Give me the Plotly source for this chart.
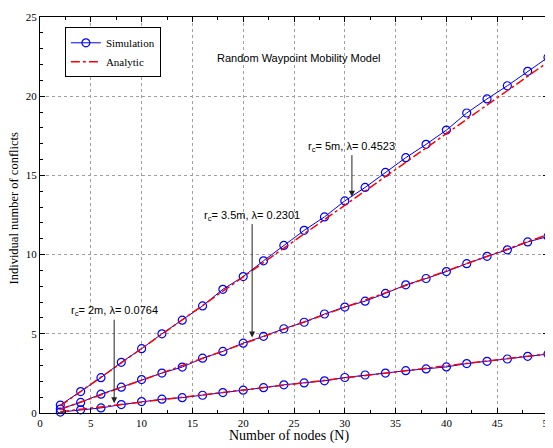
import plotly.graph_objects as go

# ---- data ----
nodes = [2, 4, 6, 8, 10, 12, 14, 16, 18, 20, 22, 24, 26, 28, 30, 32, 34, 36, 38, 40, 42, 44, 46, 48, 50]

sim_rc5 = [0.50, 1.35, 2.23, 3.20, 4.06, 5.00, 5.86, 6.76, 7.81, 8.61, 9.61, 10.58, 11.53, 12.38, 13.39,
           14.24, 15.19, 16.12, 16.96, 17.86, 18.94, 19.83, 20.66, 21.57, 22.45]
ana_rc5 = [0.45, 1.36, 2.26, 3.17, 4.07, 4.98, 5.88, 6.78, 7.69, 8.59, 9.50, 10.40, 11.31, 12.21, 13.12,
           14.02, 14.93, 15.83, 16.74, 17.64, 18.55, 19.45, 20.35, 21.26, 22.16]

sim_rc35 = [0.25, 0.67, 1.19, 1.63, 2.11, 2.52, 2.90, 3.46, 3.89, 4.41, 4.84, 5.32, 5.73, 6.25, 6.69,
            7.06, 7.55, 8.09, 8.49, 8.93, 9.43, 9.89, 10.30, 10.80, 11.14]
ana_rc35 = [0.23, 0.69, 1.15, 1.61, 2.07, 2.53, 2.99, 3.45, 3.91, 4.37, 4.83, 5.29, 5.75, 6.21, 6.67,
            7.13, 7.59, 8.05, 8.51, 8.97, 9.43, 9.89, 10.35, 10.81, 11.27]

sim_rc2 = [0.06, 0.20, 0.32, 0.53, 0.72, 0.87, 0.97, 1.12, 1.29, 1.44, 1.60, 1.78, 1.90, 2.03, 2.24,
           2.40, 2.52, 2.67, 2.78, 2.91, 3.12, 3.26, 3.41, 3.58, 3.72]
ana_rc2 = [0.08, 0.23, 0.38, 0.53, 0.69, 0.84, 0.99, 1.15, 1.30, 1.45, 1.60, 1.76, 1.91, 2.06, 2.22,
           2.37, 2.52, 2.67, 2.83, 2.98, 3.13, 3.29, 3.44, 3.59, 3.74]

sim_series = [sim_rc5, sim_rc35, sim_rc2]
ana_series = [ana_rc5, ana_rc35, ana_rc2]

labels = ["r<sub>c</sub>= 5m, λ= 0.4523", "r<sub>c</sub>= 3.5m, λ= 0.2301", "r<sub>c</sub>= 2m, λ= 0.0764"]
arrow_tips = [(30.7, 13.66), (20.88, 4.76), (7.3, 0.62)]
label_offsets = [-50, -122, -92]   # label centre above arrow tip, in pixels

title_text = "Random Waypoint Mobility Model"
x_title = "Number of nodes (N)"
y_title = "Individual number of conflicts"

SERIF = "Liberation Serif, Times New Roman, serif"
SANS = "Liberation Sans, Arial, sans-serif"

fig = go.Figure()

for i, s in enumerate(sim_series):
    fig.add_trace(go.Scatter(
        x=nodes, y=s, mode="lines+markers", name="Simulation",
        legendgroup="sim", showlegend=(i == 0),
        line=dict(color="#0000ff", width=1),
        marker=dict(symbol="circle-open", size=8, color="#0000ff", line=dict(width=1.2)),
        cliponaxis=False,
    ))

for i, s in enumerate(ana_series):
    fig.add_trace(go.Scatter(
        x=nodes, y=s, mode="lines", name="Analytic",
        legendgroup="ana", showlegend=(i == 0),
        line=dict(color="#ff0000", width=1.5, dash="dashdot"),
    ))

annotations = []
for (tx, ty), off, txt in zip(arrow_tips, label_offsets, labels):
    annotations.append(dict(x=tx, y=ty, xref="x", yref="y", text=txt, showarrow=True,
                            ax=0, ay=off, arrowhead=2, arrowsize=1.2, arrowwidth=1,
                            arrowcolor="#222222",
                            font=dict(family=SANS, size=11, color="black")))

annotations.append(dict(x=25.4, y=22.44, xref="x", yref="y", text=title_text, showarrow=False,
                        font=dict(family=SANS, size=11, color="black"),
                        xanchor="center", yanchor="middle"))
annotations.append(dict(x=0.4897, y=-0.058, xref="paper", yref="paper", text=x_title, showarrow=False,
                        font=dict(family=SERIF, size=14, color="black"),
                        xanchor="center", yanchor="middle"))
annotations.append(dict(x=-0.0511, y=0.5165, xref="paper", yref="paper", text=y_title, showarrow=False,
                        textangle=-90,
                        font=dict(family=SERIF, size=12.5, color="black"),
                        xanchor="center", yanchor="middle"))

axis_common = dict(
    showline=True, linecolor="black", linewidth=1, mirror="ticks",
    ticks="inside", ticklen=5, tickcolor="black", tickwidth=1,
    showgrid=True, gridcolor="#a0a0a0", griddash="dot", gridwidth=1,
    zeroline=False, ticklabeloverflow="allow",
    tickfont=dict(family=SERIF, size=11, color="black"),
)

fig.update_layout(
    width=553, height=448,
    margin=dict(l=32, r=13, t=3, b=43),
    paper_bgcolor="white", plot_bgcolor="white",
    xaxis=dict(range=[0, 50], tick0=0, dtick=5,
               minor=dict(dtick=2.5, ticks="inside", ticklen=3, tickcolor="black", showgrid=False),
               **axis_common),
    yaxis=dict(range=[0, 25], tick0=0, dtick=5,
               minor=dict(dtick=1, ticks="inside", ticklen=3, tickcolor="black", showgrid=False),
               **axis_common),
    showlegend=True,
    legend=dict(x=0.049, y=0.974, xanchor="left", yanchor="top",
                bgcolor="white", bordercolor="black", borderwidth=1,
                font=dict(family=SERIF, size=11, color="black"),
                itemwidth=30, tracegroupgap=0),
    annotations=annotations,
)

fig.write_html("out.html")
